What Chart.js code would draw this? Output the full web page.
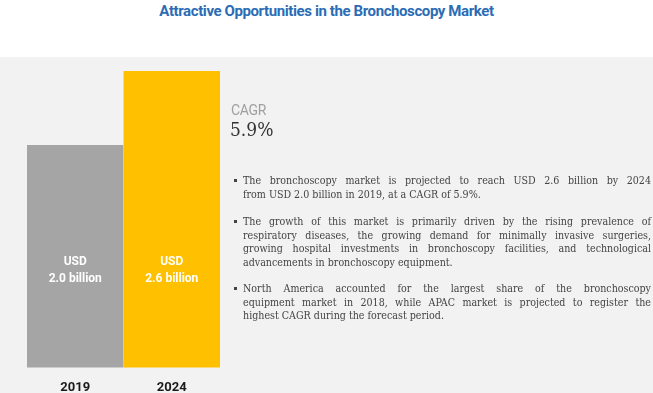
<!DOCTYPE html>
<html>
<head>
<meta charset="utf-8">
<script src="https://cdn.jsdelivr.net/npm/chart.js@4.4.0/dist/chart.umd.min.js"></script>
<style>
  html, body { margin: 0; padding: 0; background: #fff; }
  body { width: 653px; height: 393px; position: relative; overflow: hidden; }
  #title {
    position: absolute; top: 2px; left: 0; width: 653px; text-align: center;
    font-family: Roboto, "DejaVu Sans Condensed", sans-serif;
    font-weight: bold; font-size: 15px; color: #2b6cb5; letter-spacing: -0.4px;
  }
  #panel { position: absolute; left: 0; top: 57px; width: 653px; height: 336px; background: #f2f2f2; }
  #chartBox { position: absolute; left: 0; top: 57px; width: 240px; height: 344px; }
  #cagrLabel {
    position: absolute; left: 231px; top: 102px;
    font-family: Roboto, sans-serif; letter-spacing: -0.3px;
    font-size: 14px; color: #a0a0a0;
  }
  #cagrValue {
    position: absolute; left: 230px; top: 118px;
    font-family: "DejaVu Serif Condensed", "Liberation Serif", serif;
    font-size: 19px; color: #333;
  }
  #notes {
    position: absolute; left: 243px; top: 174px; width: 408px;
    font-family: "DejaVu Serif Condensed", "Liberation Serif", serif;
    font-size: 10.6px; color: #444; line-height: 13.7px;
  }
  #notes p { margin: 0 0 12.3px 0; position: relative; }
  #notes p:first-child { margin-bottom: 13.5px; }
  #notes p::before {
    content: ""; position: absolute; left: -9px; top: 5px; width: 3px; height: 3px; background: #444;
  }
  #notes .ln { display: block; text-align: justify; text-align-last: justify; white-space: nowrap; }
  #notes .ln.last { text-align-last: left; }
</style>
</head>
<body>
<div id="title">Attractive Opportunities in the Bronchoscopy Market</div>
<div id="panel"></div>
<div id="chartBox"><canvas id="marketChart"></canvas></div>
<div id="cagrLabel">CAGR</div>
<div id="cagrValue">5.9%</div>
<div id="notes">
  <p><span class="ln">The bronchoscopy market is projected to reach USD 2.6 billion by 2024</span><span class="ln last">from USD 2.0 billion in 2019, at a CAGR of 5.9%.</span></p>
  <p><span class="ln">The growth of this market is primarily driven by the rising prevalence of</span><span class="ln">respiratory diseases, the growing demand for minimally invasive surgeries,</span><span class="ln">growing hospital investments in bronchoscopy facilities, and technological</span><span class="ln last">advancements in bronchoscopy equipment.</span></p>
  <p><span class="ln">North America accounted for the largest share of the bronchoscopy</span><span class="ln">equipment market in 2018, while APAC market is projected to register the</span><span class="ln last">highest CAGR during the forecast period.</span></p>
</div>
<script>
// Chart data
const years = ['2019', '2024'];
const marketSize = [2.0, 2.6];
const valueLabels = ['2.0 billion', '2.6 billion'];

const barColors = ['#a5a5a5', '#ffc000'];
const baseColors = ['#8e8e8e', '#e6ab00'];

// Write "USD / x.x billion" inside each bar
const barTextPlugin = {
    id: 'barText',
    afterDatasetsDraw(chart) {
        const ctx = chart.ctx;
        const meta = chart.getDatasetMeta(0);
        ctx.save();
        ctx.fillStyle = '#ffffff';
        ctx.textAlign = 'center';
        ctx.textBaseline = 'middle';
        ctx.font = 'bold 12px Roboto, sans-serif';
        meta.data.forEach((bar, i) => {
            const base = bar.base;
            ctx.fillText('USD', bar.x, base - 130);
            ctx.fillText(valueLabels[i], bar.x, base - 113);
        });
        ctx.restore();
    }
};

document.addEventListener('DOMContentLoaded', function() {
    const ctx = document.getElementById('marketChart').getContext('2d');
    new Chart(ctx, {
        type: 'bar',
        data: {
            labels: years,
            datasets: [{
                data: marketSize,
                backgroundColor: barColors,
                borderColor: baseColors,
                borderWidth: { top: 0, left: 0, right: 0, bottom: 2 },
                borderSkipped: false,
                categoryPercentage: 1,
                barPercentage: 1
            }]
        },
        options: {
            responsive: true,
            maintainAspectRatio: false,
            animation: false,
            layout: { padding: { left: 27, right: 20, top: 14, bottom: 0 } },
            plugins: { legend: { display: false }, tooltip: { enabled: false } },
            scales: {
                y: { display: false, min: 0.2, max: 2.6 },
                x: {
                    grid: { display: false },
                    border: { display: false },
                    ticks: {
                        padding: 5,
                        color: '#1a1a1a',
                        font: { family: 'Roboto, sans-serif', size: 13, weight: 'bold' }
                    }
                }
            }
        },
        plugins: [barTextPlugin]
    });
});
</script>
</body>
</html>
